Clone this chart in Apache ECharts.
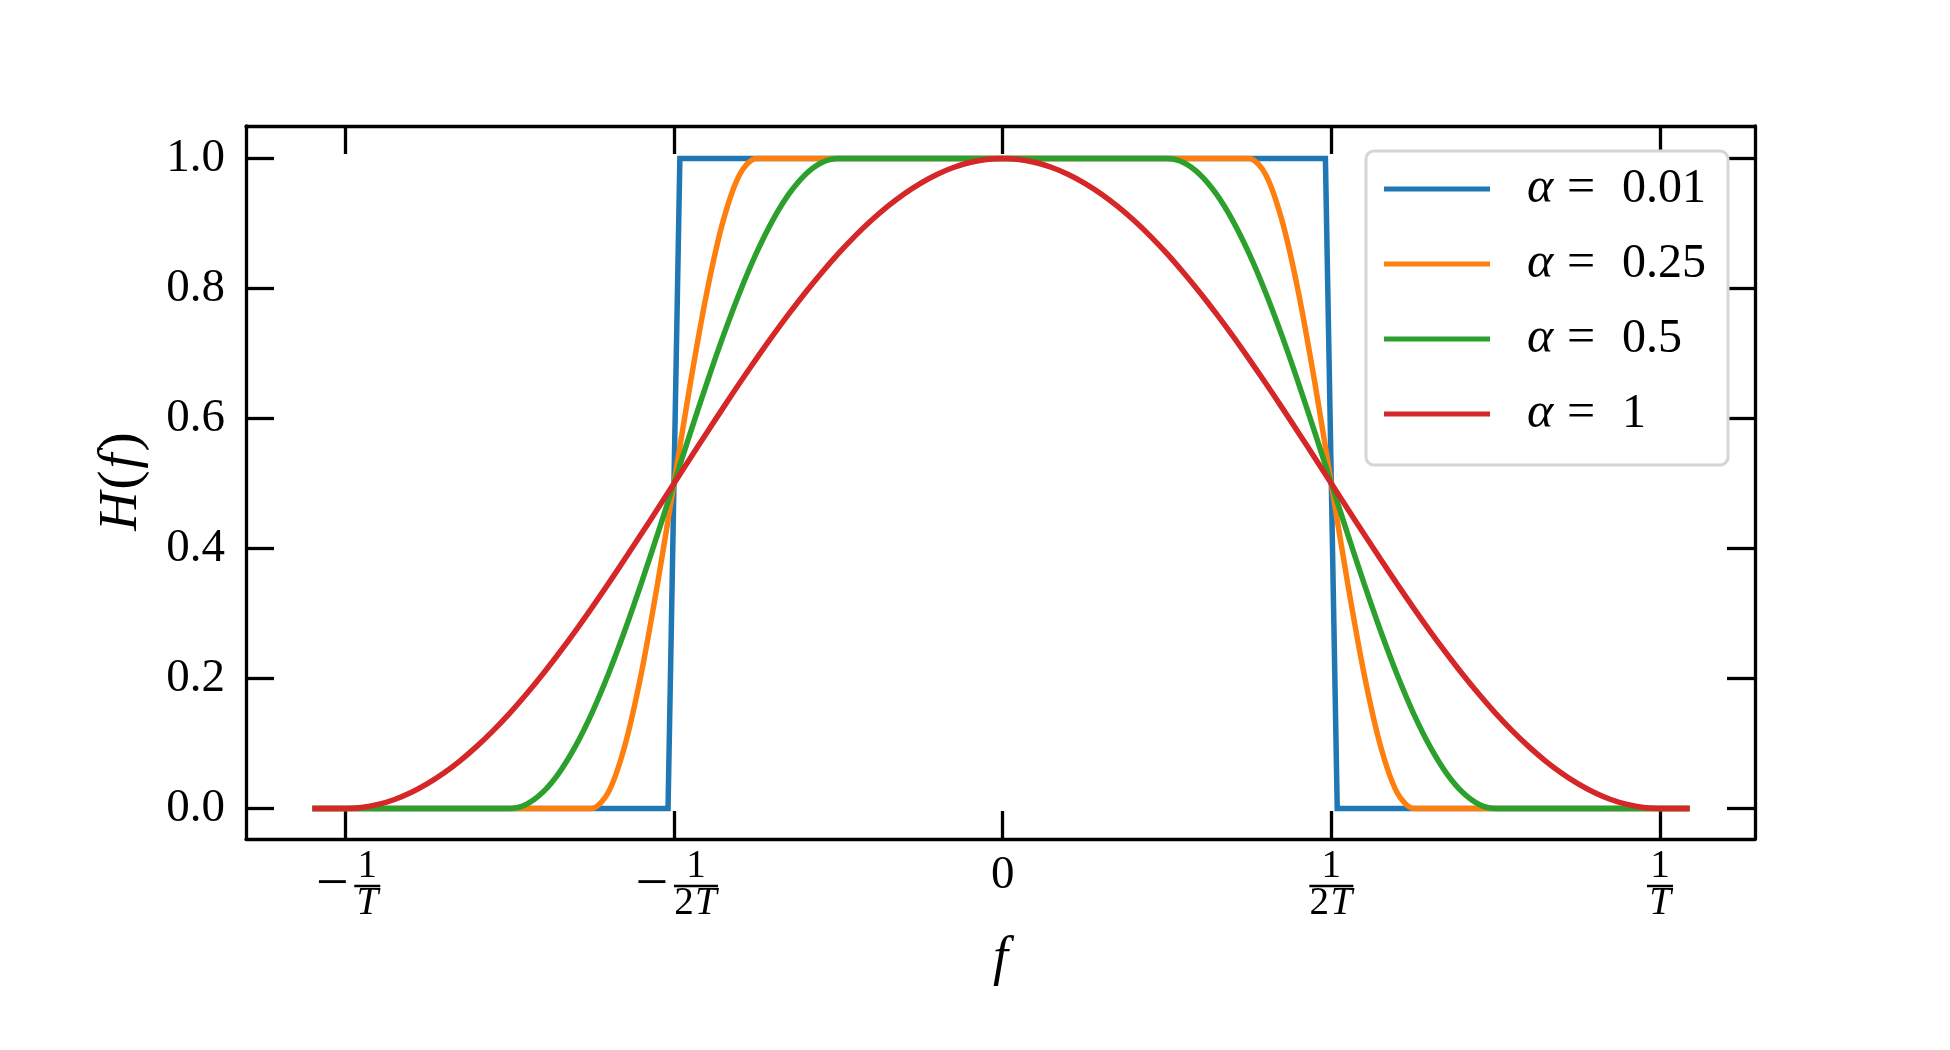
<!DOCTYPE html>
<html>
<head>
<meta charset="utf-8">
<script src="https://cdn.jsdelivr.net/npm/echarts@6/dist/echarts.min.js"></script>
<style>
html,body{margin:0;padding:0;background:#fff;}
#chart{width:1950px;height:1050px;}
</style>
</head>
<body>
<div id="chart"></div>
<script>
// ---- data (f in units of 1/T) ----
const freq = [-1.05,-1.025,-1.0,-0.975,-0.95,-0.925,-0.9,-0.875,-0.85,-0.825,-0.8,-0.775,-0.75,-0.725,-0.7,-0.675,-0.65,-0.625,-0.6,-0.575,-0.55,-0.525,-0.5,-0.475,-0.45,-0.425,-0.4,-0.375,-0.35,-0.325,-0.3,-0.275,-0.25,-0.225,-0.2,-0.175,-0.15,-0.125,-0.1,-0.075,-0.05,-0.025,0,0.025,0.05,0.075,0.1,0.125,0.15,0.175,0.2,0.225,0.25,0.275,0.3,0.325,0.35,0.375,0.4,0.425,0.45,0.475,0.5,0.525,0.55,0.575,0.6,0.625,0.65,0.675,0.7,0.725,0.75,0.775,0.8,0.825,0.85,0.875,0.9,0.925,0.95,0.975,1.0,1.025,1.045];

const freqA001 = [-1.05, -0.509, -0.491, 0.491, 0.509, 1.045];
const hA001 = [0, 0, 1, 1, 0, 0];

const hA025 = [0,0,0,0,0,0,0,0,0,0,0,0,0,0,0,0,0,0,
  0.0245,0.0955,0.2061,0.3455,0.5,0.6545,0.7939,0.9045,0.9755,
  1,1,1,1,1,1,1,1,1,1,1,1,1,1,1,1,
  1,1,1,1,1,1,1,1,1,1,1,1,1,1,1,
  0.9755,0.9045,0.7939,0.6545,0.5,0.3455,0.2061,0.0955,0.0245,
  0,0,0,0,0,0,0,0,0,0,0,0,0,0,0,0,0,0];

const hA05 = [0,0,0,0,0,0,0,0,0,0,0,0,0,
  0.0062,0.0245,0.0545,0.0955,0.1464,0.2061,0.273,0.3455,0.4218,0.5,0.5782,0.6545,0.727,0.7939,0.8536,0.9045,0.9455,0.9755,0.9938,
  1,1,1,1,1,1,1,1,1,1,1,
  1,1,1,1,1,1,1,1,1,1,
  0.9938,0.9755,0.9455,0.9045,0.8536,0.7939,0.727,0.6545,0.5782,0.5,0.4218,0.3455,0.273,0.2061,0.1464,0.0955,0.0545,0.0245,0.0062,
  0,0,0,0,0,0,0,0,0,0,0,0,0];

const hA1 = [0,0,0,0.0015,0.0062,0.0138,0.0245,0.0381,0.0545,0.0737,0.0955,0.1198,0.1464,0.1753,0.2061,0.2388,0.273,0.3087,0.3455,0.3833,0.4218,0.4608,0.5,0.5392,0.5782,0.6167,0.6545,0.6913,0.727,0.7612,0.7939,0.8247,0.8536,0.8802,0.9045,0.9263,0.9455,0.9619,0.9755,0.9862,0.9938,0.9985,1,
  0.9985,0.9938,0.9862,0.9755,0.9619,0.9455,0.9263,0.9045,0.8802,0.8536,0.8247,0.7939,0.7612,0.727,0.6913,0.6545,0.6167,0.5782,0.5392,0.5,0.4608,0.4218,0.3833,0.3455,0.3087,0.273,0.2388,0.2061,0.1753,0.1464,0.1198,0.0955,0.0737,0.0545,0.0381,0.0245,0.0138,0.0062,0.0015,0,0,0];

const seriesNames = ['α = 0.01', 'α = 0.25', 'α = 0.5', 'α = 1'];
const seriesValueText = ['0.01', '0.25', '0.5', '1'];
const colors = ['#1f77b4', '#ff7f0e', '#2ca02c', '#d62728'];

const xTickValues = [-1, -0.5, 0, 0.5, 1];
const xTickSign = ['−', '−', '', '', ''];
const xTickDen = ['T', '2T', '', '2T', 'T'];
const yTickValues = [0, 0.2, 0.4, 0.6, 0.8, 1.0];

// ---- build ----
const FONT = 'Liberation Serif';
function pairs(xs, ys) { return xs.map((x, i) => [x, ys[i]]); }

function xLabel(v) {
  const i = xTickValues.findIndex(t => Math.abs(t - v) < 1e-9);
  if (i < 0) return '';
  const den = xTickDen[i];
  if (den === '') return '{zero|0}';
  const wide = den === '2T';
  const sgn = xTickSign[i] !== '';
  const l1 = (sgn ? '{ms| }' : '') + (wide ? '{numB|1}' : '{numA|1}');
  const l2 = (sgn ? '{mi|−}' : '') + (wide ? '{barB| }' : '{barA| }');
  const l3 = (sgn ? '{ms| }' : '') + (wide ? '{den2|2}{denT2|T}' : '{denT|T}');
  return l1 + '\n' + l2 + '\n' + l3;
}

const fracSize = 39;
const xRich = {
  zero: { fontFamily: FONT, fontSize: 47, lineHeight: 49, color: '#000' },
  ms: { width: 44, align: 'center', fontSize: 4, lineHeight: 1 },
  mi: { width: 44, align: 'center', fontFamily: FONT, fontSize: 58, lineHeight: 6, color: '#000' },
  numA: { width: 26, align: 'center', fontFamily: FONT, fontSize: fracSize, lineHeight: 32, color: '#000' },
  numB: { width: 44, align: 'center', fontFamily: FONT, fontSize: fracSize, lineHeight: 32, color: '#000' },
  barA: { width: 26, height: 2.5, align: 'center', backgroundColor: '#000', fontSize: 2, lineHeight: 6 },
  barB: { width: 44, height: 2.5, align: 'center', backgroundColor: '#000', fontSize: 2, lineHeight: 6 },
  denT: { width: 26, align: 'center', fontFamily: FONT, fontStyle: 'italic', fontSize: fracSize, lineHeight: 30, color: '#000' },
  den2: { width: 20, align: 'center', fontFamily: FONT, fontSize: fracSize, lineHeight: 30, color: '#000' },
  denT2: { width: 24, align: 'center', fontFamily: FONT, fontStyle: 'italic', fontSize: fracSize, lineHeight: 30, color: '#000' }
};

const axisLineStyle = { color: '#000', width: 3.3 };
const tickCommon = { inside: true, length: 28, lineStyle: { color: '#000', width: 3.3 } };
const xMin = -1.151, xMax = 1.1445, yMin = -0.047, yMax = 1.05;
const LW = 5.5;

const option = {
  animation: false,
  backgroundColor: '#fff',
  grid: { left: 246, right: 195, top: 126, bottom: 211, containLabel: false },
  xAxis: [
    {
      type: 'value', position: 'bottom', min: xMin, max: xMax,
      name: 'f', nameLocation: 'middle', nameGap: 94,
      nameTextStyle: { fontFamily: FONT, fontStyle: 'italic', fontSize: 54, color: '#000' },
      axisLine: { show: true, onZero: false, lineStyle: axisLineStyle },
      axisTick: Object.assign({ customValues: xTickValues }, tickCommon),
      axisLabel: { customValues: xTickValues, margin: 12, formatter: xLabel, rich: xRich, color: '#000' },
      splitLine: { show: false }
    },
    {
      type: 'value', position: 'top', min: xMin, max: xMax,
      axisLine: { show: true, onZero: false, lineStyle: axisLineStyle },
      axisTick: Object.assign({ customValues: xTickValues }, tickCommon),
      axisLabel: { show: false },
      splitLine: { show: false }
    }
  ],
  yAxis: [
    {
      type: 'value', position: 'left', min: yMin, max: yMax,
      name: '{i|H}{r|(}{i|f}{r|)}', nameLocation: 'middle', nameGap: 95, nameRotate: 90,
      nameTextStyle: {
        rich: {
          i: { fontFamily: FONT, fontStyle: 'italic', fontSize: 54, color: '#000', padding: [0, 2, 0, 2] },
          r: { fontFamily: FONT, fontSize: 58, color: '#000' }
        }
      },
      axisLine: { show: true, onZero: false, lineStyle: axisLineStyle },
      axisTick: Object.assign({ customValues: yTickValues }, tickCommon),
      axisLabel: {
        customValues: yTickValues, margin: 21,
        formatter: v => v.toFixed(1),
        fontFamily: FONT, fontSize: 47, color: '#000'
      },
      splitLine: { show: false }
    },
    {
      type: 'value', position: 'right', min: yMin, max: yMax,
      axisLine: { show: true, onZero: false, lineStyle: axisLineStyle },
      axisTick: Object.assign({ customValues: yTickValues }, tickCommon),
      axisLabel: { show: false },
      splitLine: { show: false }
    }
  ],
  legend: {
    orient: 'vertical', left: 1366, top: 151,
    icon: 'rect', itemWidth: 106, itemHeight: 5, itemGap: 25,
    padding: [13, 21, 26, 18],
    backgroundColor: '#fff', borderColor: '#d5d5d5', borderWidth: 3, borderRadius: 8,
    data: seriesNames,
    formatter: name => {
      const i = seriesNames.indexOf(name);
      return '{sp| }{a|α}{eq|=}{v|' + seriesValueText[i] + '}';
    },
    textStyle: {
      fontFamily: FONT, fontSize: 47, color: '#000', lineHeight: 50,
      rich: {
        sp: { width: 32, fontSize: 4 },
        a: { width: 40, fontFamily: FONT, fontStyle: 'italic', fontSize: 50, color: '#000' },
        eq: { width: 55, fontFamily: FONT, fontSize: 50, color: '#000' },
        v: { width: 85, fontFamily: FONT, fontSize: 48, color: '#000' }
      }
    }
  },
  series: [
    { name: seriesNames[0], type: 'line', data: pairs(freqA001, hA001), showSymbol: false, symbol: 'none',
      lineStyle: { color: colors[0], width: LW, join: 'miter' }, itemStyle: { color: colors[0] } },
    { name: seriesNames[1], type: 'line', data: pairs(freq, hA025), showSymbol: false, symbol: 'none', smooth: 0.3,
      lineStyle: { color: colors[1], width: LW }, itemStyle: { color: colors[1] } },
    { name: seriesNames[2], type: 'line', data: pairs(freq, hA05), showSymbol: false, symbol: 'none', smooth: 0.3,
      lineStyle: { color: colors[2], width: LW }, itemStyle: { color: colors[2] } },
    { name: seriesNames[3], type: 'line', data: pairs(freq, hA1), showSymbol: false, symbol: 'none', smooth: 0.3,
      lineStyle: { color: colors[3], width: LW }, itemStyle: { color: colors[3] } }
  ]
};

const chart = echarts.init(document.getElementById('chart'), null, { renderer: 'canvas' });
chart.setOption(option);
</script>
</body>
</html>
